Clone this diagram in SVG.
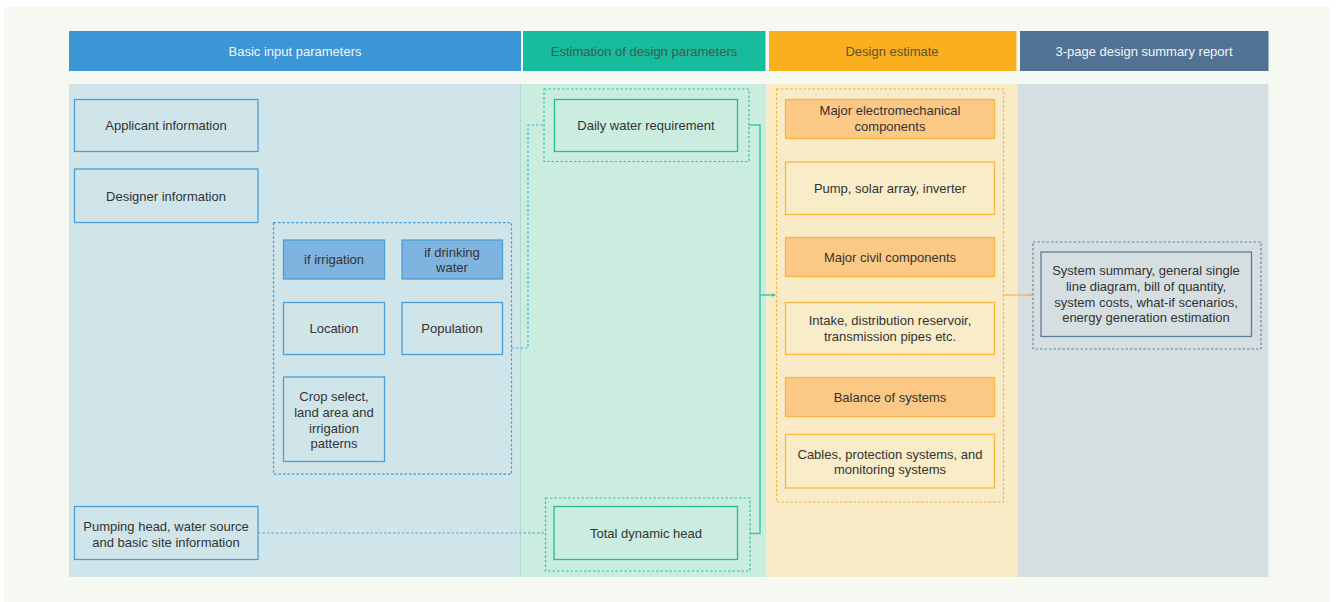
<svg xmlns="http://www.w3.org/2000/svg" width="1336" height="602" viewBox="0 0 1336 602">
<style>
text{font-family:"Liberation Sans",Arial,sans-serif;font-size:13px;text-anchor:middle;fill:#333}
.hw{fill:#f2f6fa}
.hd{fill:#3e5a53}
.hy{fill:#5e5030}
.bb{fill:none;stroke:#4a9fd8;stroke-width:1.3}
.bf{fill:#80b4e0;stroke:#4a9fd8;stroke-width:1.3}
.tb{fill:none;stroke:#1fbf98;stroke-width:1.3}
.od{fill:#fcc886;stroke:#fab63c;stroke-width:1.3}
.ol{fill:#f9ecc9;stroke:#fbb840;stroke-width:1.3}
.rb{fill:#d5dfe1;stroke:#5f7b98;stroke-width:1.3}
.dot{fill:none;stroke-width:1.2;stroke-dasharray:2.5 2}
</style>
<defs>
<marker id="at" markerWidth="4" markerHeight="4" refX="3" refY="2" orient="auto" markerUnits="userSpaceOnUse"><path d="M0,0 L4,2 L0,4 z" fill="#3cc7a5"/></marker>
<marker id="ao" markerWidth="4" markerHeight="4" refX="3" refY="2" orient="auto" markerUnits="userSpaceOnUse"><path d="M0,0 L4,2 L0,4 z" fill="#f3b548"/></marker>
</defs>
<rect x="0" y="0" width="1336" height="602" fill="#ffffff"/>
<rect x="4" y="7" width="1326" height="595" fill="#f6f9f2"/>

<g id="columns">
<rect x="69" y="84" width="451.5" height="493" fill="#d0e5ea"/>
<rect x="520.5" y="84" width="246" height="493" fill="#cbede0"/>
<line x1="520.5" y1="84" x2="520.5" y2="577" stroke="#a9dcd6" stroke-width="1"/>
<rect x="766.5" y="84" width="251" height="493" fill="#f9ebc8"/>
<rect x="1017.5" y="84" width="251" height="493" fill="#d5dfe1"/>
</g>

<g id="headers">
<rect x="69" y="31" width="452" height="40" fill="#3a96d4"/>
<text class="hw" x="295" y="56">Basic input parameters</text>
<rect x="523" y="31" width="242.5" height="40" fill="#17bc9c"/>
<text class="hd" x="644" y="56">Estimation of design parameters</text>
<rect x="769" y="31" width="247.5" height="40" fill="#fab01e"/>
<text class="hy" x="892" y="56">Design estimate</text>
<rect x="1020" y="31" width="248.5" height="40" fill="#527293"/>
<text class="hw" x="1144" y="56">3-page design summary report</text>
</g>

<g id="connectors">
<path class="dot" d="M511.5,348 H528 V125 H544" stroke="#56aad8"/>
<path class="dot" d="M258,533 H545" stroke="#56aad8"/>
<path d="M749,125 H760 V533.5 H750" fill="none" stroke="#3cc7a5" stroke-width="1.5"/>
<path d="M760,295 H775" fill="none" stroke="#3cc7a5" stroke-width="1.5" marker-end="url(#at)"/>
<path d="M1004,295 H1032" fill="none" stroke="#f3b548" stroke-width="1.2" marker-end="url(#ao)"/>
</g>

<g id="applicant"><rect class="bb" x="74.5" y="99.5" width="183.5" height="52"/><text x="166" y="130">Applicant information</text></g>
<g id="designer"><rect class="bb" x="74.5" y="169" width="183.5" height="53.5"/><text x="166" y="201">Designer information</text></g>

<g id="input-group">
<rect class="dot" x="273.5" y="222.7" width="238" height="251.5" stroke="#3f9bd8"/>
<g id="irrigation"><rect class="bf" x="283.5" y="240" width="101" height="39"/><text x="334" y="264">if irrigation</text></g>
<g id="drinking"><rect class="bf" x="402" y="240" width="100.5" height="39"/><text x="452" y="257">if drinking</text><text x="452" y="272">water</text></g>
<g id="location"><rect class="bb" x="283.5" y="302.5" width="101" height="52"/><text x="334" y="333">Location</text></g>
<g id="population"><rect class="bb" x="402" y="302.5" width="100.5" height="52"/><text x="452" y="333">Population</text></g>
<g id="crop"><rect class="bb" x="283.5" y="377" width="101" height="84.5"/><text x="334" y="401">Crop select,</text><text x="334" y="417">land area and</text><text x="334" y="433">irrigation</text><text x="334" y="448">patterns</text></g>
</g>

<g id="pumping"><rect class="bb" x="74.5" y="506.5" width="183.5" height="53"/><text x="166" y="531">Pumping head, water source</text><text x="166" y="547">and basic site information</text></g>

<g id="daily">
<rect class="dot" x="544" y="89" width="205" height="72.5" stroke="#35c4a3"/>
<rect class="tb" x="554.5" y="99.5" width="183" height="52"/>
<text x="646" y="130">Daily water requirement</text>
</g>
<g id="tdh">
<rect class="dot" x="545.5" y="498" width="204.5" height="73" stroke="#35c4a3"/>
<rect class="tb" x="554" y="506.5" width="183.5" height="53"/>
<text x="646" y="538">Total dynamic head</text>
</g>

<g id="design-group">
<rect class="dot" x="776.5" y="89" width="227" height="413" stroke="#f9b22a"/>
<g id="electromech"><rect class="od" x="785.5" y="99.5" width="209" height="39"/><text x="890" y="115">Major electromechanical</text><text x="890" y="131">components</text></g>
<g id="pump"><rect class="ol" x="785.5" y="162" width="209" height="52.5"/><text x="890" y="193">Pump, solar array, inverter</text></g>
<g id="civil"><rect class="od" x="785.5" y="237.5" width="209" height="39"/><text x="890" y="262">Major civil components</text></g>
<g id="intake"><rect class="ol" x="785.5" y="302.5" width="209" height="52"/><text x="890" y="325">Intake, distribution reservoir,</text><text x="890" y="341">transmission pipes etc.</text></g>
<g id="balance"><rect class="od" x="785.5" y="377.5" width="209" height="39"/><text x="890" y="402">Balance of systems</text></g>
<g id="cables"><rect class="ol" x="785.5" y="434.5" width="209" height="53.5"/><text x="890" y="459">Cables, protection systems, and</text><text x="890" y="474">monitoring systems</text></g>
</g>

<g id="report">
<rect class="dot" x="1033" y="242" width="228" height="107" stroke="#6a86a5"/>
<rect class="rb" x="1041" y="252" width="210.5" height="84.5"/>
<text x="1146" y="275">System summary, general single</text>
<text x="1146" y="291">line diagram, bill of quantity,</text>
<text x="1146" y="307">system costs, what-if scenarios,</text>
<text x="1146" y="322">energy generation estimation</text>
</g>
</svg>
